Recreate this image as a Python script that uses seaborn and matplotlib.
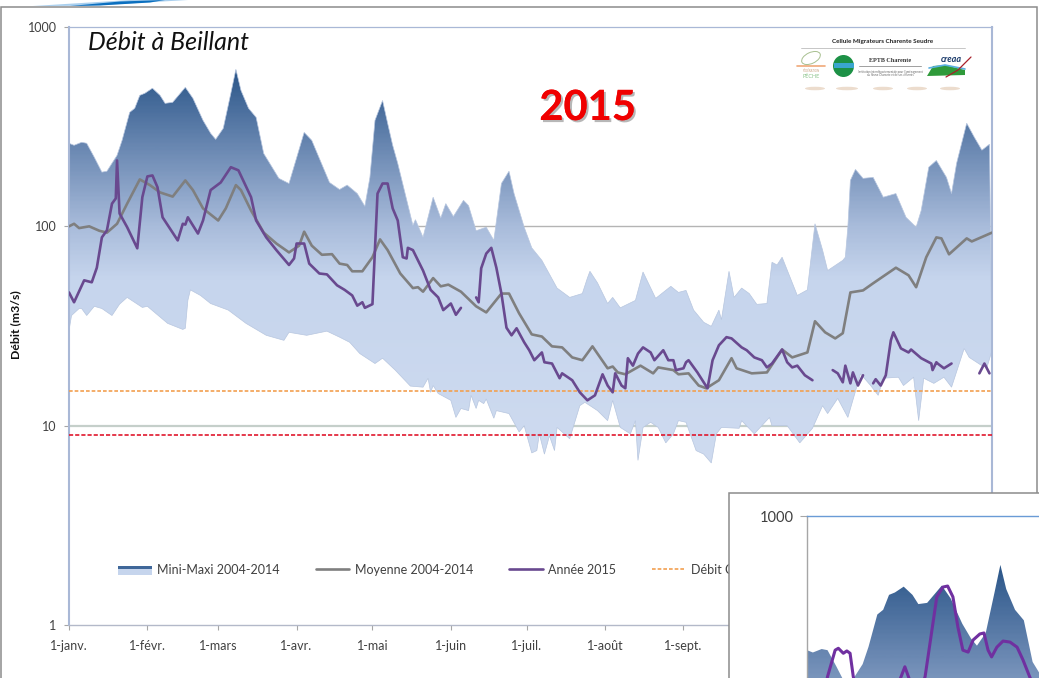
import numpy as np
import pandas as pd
import matplotlib
matplotlib.use("Agg")
import matplotlib.pyplot as plt
import seaborn as sns
from matplotlib.colors import LinearSegmentedColormap
from matplotlib.patches import Rectangle, Ellipse, Polygon
from matplotlib.legend_handler import HandlerBase
from matplotlib.lines import Line2D
from matplotlib.ticker import NullLocator
import matplotlib.patheffects as pe

max_days = [0,2,5,7,10,13,15,19,21,24,26,28,30,33,36,38,41,46,49,53,56,58,61,64,66,68,71,74,77,83,87,93,96,103,107,110,
            114,117,119,121,124,126,128,130,136,137,140,144,147,149,152,156,158,161,165,168,171,174,176,180,183,187,193,198,203,205,206,209,213,215,218,224,227,232,238,
            241,244,247,251,254,257,258,261,263,266,269,272,276,278,280,282,288,292,295,298,300,306,307,308,309,311,314,318,322,327,331,335,337,340,343,347,349,351,355,358,361,364]
max_vals = [261,255,264,261,222,187,189,227,270,373,391,454,465,493,454,414,419,498,439,340,293,273,310,465,613,481,391,352,232,174,164,296,270,166,153,161,
            146,126,176,340,428,329,255,207,101,108,88,140,110,130,112,135,127,95,99,85,164,189,146,99,78,67.5,49,44,46,55,59.5,52,41,44,39,42.5,59,43.5,50,
            46.6,47.7,38,33,31.5,38,34,59.5,44,49,46,40.6,41,66,64,70,45,48,103,76,60,67.5,70,99,170,193,174,176,140,146,111,99,120,198,214,176,146,207,329,280,241,258]

min_days = [0,1,4,5,7,10,13,17,20,23,29,31,39,45,46,47,48,52,56,63,70,78,85,87,94,102,
            107,111,115,121,124,129,135,140,142,143,144,146,151,153,155,158,159,161,162,164,165,168,169,174,178,180,183,185,186,188,190,192,193,198,202,204,209,213,215,218,222,224,225,227,230,233,236,239,
            241,244,248,251,254,256,258,265,266,271,277,278,284,289,294,298,300,304,308,313,317,320,322,328,330,334,336,338,342,346,349,354,356,361,363,365]
min_vals = [30,35.7,38.7,38.7,35.7,39.7,38.7,35.7,40.7,44,39.2,39.7,32.6,30.4,30.8,42.5,48,45,41,38,32.6,28.4,26.8,29.4,28.4,29.8,
            27.8,26.2,23,20.5,21.8,19,15.8,15.6,17.3,14.7,15.9,14.5,13.4,11,12.2,11.9,14.2,12.2,13.4,12.9,13.6,10.9,11.9,11.5,9.3,10,7.3,7.5,9.1,7.2,8.9,7.5,9.8,8.6,12.6,13.1,11.9,10.6,13.4,9.8,9.1,10.6,6.7,9.8,10.4,9.8,8.2,9.1,
            10.6,10.4,7.5,7.2,6.5,9.1,9.8,9.7,10.6,9.1,11,10,10,8.2,9.7,12.6,11.5,13.7,11,18.2,15.9,14.2,17.3,17.5,15.9,17.5,10.6,17.3,16.3,17.5,15.6,24.4,22,20,19.6,23.8]

mean_days = [0,2,4,8,12,15,19,23,28,32,36,41,46,49,53,59,62,66,68,72,77,82,87,91,93,96,100,104,
             107,110,112,116,120,123,126,131,136,138,140,144,147,150,155,161,165,171,174,178,183,187,191,195,199,203,207,213,215,217,220,226,231,233,239,241,245,
             249,252,257,262,264,270,276,282,286,292,295,299,303,306,309,314,318,327,332,335,339,343,345,348,355,357,365]
mean_vals = [100,103,98,100,95,93,103,130,172,161,148,141,170,152,123,107,123,161,152,120,93,82,74,80,94,80,72,72.5,
             65,64,59.5,59.5,70,86,76,58,49,49.5,47,55,50,51,47,39.7,37,46,46,36.6,28.7,28,25,24.7,22,21.3,25,19.4,19.8,18.5,18.1,20,18.3,19.6,19,18.1,18.3,
             15.9,15.4,16.9,21.8,19.4,18.3,18.5,24.1,22,23.3,33.4,29.4,27.4,29.1,46.6,47.7,51.8,62,56.8,49.5,70,88,87,72.4,87,84,93]

y2015_days_a = [0,2,6,9,11,13,15,17,18.5,19,20,23,27,29,31,33,35,37,43,45,46,47,51,53,56,60,64,67,72,74,78,82,87,89,90,93,95,99,102,106,
                109,112,114,116,117,120,122,124,126,128,130,132,133.5,134,136,138,140,143,146,148,151,153,155]
y2015_vals_a = [46.6,41.6,53.6,52.4,62,88,95.5,130,138,214,116,99,77.6,140,178,180,157,111,85,103,102,111,92,107,152,166,198,191,140,107,88,76,64,69,82,82,65,58,57.4,50.6,
                48,45,40,41.6,39,40.7,146,164,164,123,107,70,69,78,76,67.5,60,48,44,38,41,36,39]
y2015_days_b = [161,162,163,165,167,169,171,173,175,177,180,182,184,187,188,191,194,195,199,202,205,208,211,213,215,216,218.5,220,221,223,225,227,230,231.5,235,237,239,240,243,244,245,248.5,252.5,254.5,257,260,262,266,268,271,274,276,278,282,284,286,288,291,294]
y2015_vals_b = [44,41.6,61.6,73,78,62,46,31,28.4,30.8,26.2,23.9,21.3,23.3,20.8,20.5,17.3,18.3,16.9,14.7,13.4,14.2,18.1,15.9,14.7,18.3,15.9,15.4,21.8,20,23,24.7,23.3,21.3,23.9,21.3,21.3,19,19.4,20.8,21.3,18.5,15.4,21.3,25.3,27.8,27.4,24.7,23.9,22,21.3,19.6,20.5,24.1,20.8,19.6,20,17.9,16.9]
y2015_days_c = [302,304,306,307,309,310,312,314]
y2015_vals_c = [19,18.3,16.5,20,16.3,18.5,15.9,17.9]
y2015_days_d = [318,319,321,323,325,326,329,332,333,337,341,341.5,343,343.5,346,349]
y2015_vals_d = [16.3,17.1,15.9,17.9,26.8,29.4,24.4,23.3,24.1,21.8,20.5,19,20.8,20.5,19.4,20.5]
y2015_days_e = [360,362,364]
y2015_vals_e = [18.3,20.5,18.3]

inset_days = [5,7,9.6,10.7,12.4,13.6,14.7,15.8,18,25,30,31.7,33.4,35,37,40.3,44.3,46.4,48,49.8,51.5,53.2,55,56.7,59,60.4,61.8,63,64.8,66.9,69.3,71.7,73.7,76,80]
inset_vals = [150,200,261,266,253,259,253,200,150,120,150,194,221,194,150,200,445,491,496,445,329,261,256,289,307,310,261,244,269,286,283,269,237,200,150]

objectif_lines = [15, 9]
grid_values = [100, 10]
y_ticks = [1, 10, 100, 1000]
y_tick_labels = ["1", "10", "100", "1000"]
x_ticks = [0, 31, 59, 90, 120, 151, 181, 212, 243]
x_tick_labels = ["1-janv.", "1-févr.", "1-mars", "1-avr.", "1-mai", "1-juin", "1-juil.", "1-août", "1-sept."]
legend_labels = ["Mini-Maxi 2004-2014", "Moyenne 2004-2014", "Année 2015", "Débit C"]

sns.set_theme(style="white")
plt.rcParams["font.family"] = ["Lato", "DejaVu Sans"]
plt.rcParams["lines.solid_joinstyle"] = "round"

W, H = 1039, 678
fig = plt.figure(figsize=(W / 100, H / 100), dpi=100, facecolor="white")
def box(l, t, r, b):
    return [l / W, 1 - b / H, (r - l) / W, (b - t) / H]

grad = LinearSegmentedColormap.from_list("g", [
    (0.0, "#d6e0f2"), (0.58, "#c6d5ed"), (0.667, "#a9bcdb"), (0.80, "#6a88b2"), (0.93, "#2b5689"), (1.0, "#234f85")])

def gradient_area(ax):
    ax.set_autoscale_on(False)
    ramp = np.linspace(0, 1, 400)[:, None]
    im = ax.imshow(ramp, origin="lower", extent=[0, 1, 0, 1], transform=ax.transAxes,
                   cmap=grad, aspect="auto", zorder=2, interpolation="bilinear")
    xs = np.r_[max_days, min_days[::-1]]
    ys = np.r_[max_vals, min_vals[::-1]]
    verts = np.c_[xs, ys]
    patch = Polygon(verts, closed=True, transform=ax.transData, facecolor="none", edgecolor="none")
    ax.add_patch(patch)
    im.set_clip_path(patch)
    return verts

# main chart
ax = fig.add_axes(box(69, 27, 992, 625), zorder=1)
ax.set_yscale("log")
ax.set_xlim(0, 365)
ax.set_ylim(1, 1000)
for v, c, w in zip(grid_values, ["#b4b4b4", "#c5cfca"], [1.0, 1.6]):
    ax.axhline(v, color=c, lw=w, zorder=1)
verts = gradient_area(ax)
ax.add_patch(Polygon(verts, closed=True, facecolor="none", edgecolor="#b7c6df", lw=0.5, zorder=2.1))
ax.axhline(objectif_lines[0], color="#f2a050", lw=1.2, ls=(0, (2.2, 1.2)), zorder=3)
ax.axhline(objectif_lines[1], color="#e0182d", lw=1.2, ls=(0, (2.5, 1.2)), zorder=3)

sns.lineplot(x=mean_days, y=mean_vals, color="#7f7f7f", lw=1.9, ax=ax, sort=False, estimator=None, legend=False, zorder=4)
for d, v in [(y2015_days_a, y2015_vals_a), (y2015_days_b, y2015_vals_b), (y2015_days_c, y2015_vals_c),
             (y2015_days_d, y2015_vals_d), (y2015_days_e, y2015_vals_e)]:
    sns.lineplot(x=d, y=v, color="#69498f", lw=1.9, ax=ax, sort=False, estimator=None, legend=False, zorder=5)

ax.set_xlabel(""); ax.set_ylabel("")
ax.set_xticks(x_ticks); ax.set_xticklabels(x_tick_labels)
ax.set_yticks(y_ticks); ax.set_yticklabels(y_tick_labels)
ax.yaxis.set_minor_locator(NullLocator())
ax.xaxis.set_minor_locator(NullLocator())
ax.tick_params(axis="both", which="major", length=3.5, width=0.8, color="#a6a6a6", labelcolor="#404040", labelsize=9, bottom=True, left=True)
ax.tick_params(axis="x", pad=7.5)
ax.tick_params(axis="y", pad=5.5)
for s in ["left", "right"]:
    ax.spines[s].set_color("#a9b8d6"); ax.spines[s].set_linewidth(1.5)
ax.spines["top"].set_color("#a9b8d6"); ax.spines["top"].set_linewidth(0.9)
ax.spines["bottom"].set_color("#b3b9c9"); ax.spines["bottom"].set_linewidth(1.0)

class AreaHandle(HandlerBase):
    def create_artists(self, legend, orig, xd, yd, width, height, fontsize, trans):
        light = Rectangle((-xd, -yd - 1), width, height * 0.62, facecolor="#c6d5ed", edgecolor="none", transform=trans)
        dark = Rectangle((-xd, -yd - 1 + height * 0.62), width, height * 0.38, facecolor="#3f6799", edgecolor="none", transform=trans)
        return [light, dark]

area_key = Rectangle((0, 0), 1, 1)
handles = [area_key,
           Line2D([], [], color="#7f7f7f", lw=1.9),
           Line2D([], [], color="#69498f", lw=1.9),
           Line2D([], [], color="#f2a050", lw=1.2, ls=(0, (2.2, 1.2)))]
leg = ax.legend(handles, legend_labels, handler_map={area_key: AreaHandle()}, ncol=4, frameon=False,
                loc="center left", bbox_to_anchor=((118 - 69) / 923, (625 - 569.5) / 598), borderpad=0, borderaxespad=0,
                fontsize=9, handlelength=2.7, handletextpad=0.45, columnspacing=2.85, labelcolor="#404040")
leg.set_zorder(6)

# decoration layer in picture pixels
deco = fig.add_axes([0, 0, 1, 1], zorder=2)
deco.set_xlim(0, W); deco.set_ylim(H, 0); deco.axis("off"); deco.patch.set_alpha(0)
deco.plot([1, 1, 1037, 1037], [H, 6.5, 6.5, H], color="#8c8c8c", lw=1.1, solid_joinstyle="miter")
deco.add_patch(Polygon([(33, 6), (90, 5.8), (188, 0), (130, 0)], closed=True, facecolor="#a9cfee", edgecolor="none"))
deco.add_patch(Polygon([(70, 6), (100, 5.5), (150, 2.5), (165, 0), (120, 1.5)], closed=True, facecolor="#0b6fbf", edgecolor="none"))
deco.text(88, 42, "Débit à Beillant", fontsize=18, style="italic", color="#111111", va="center", ha="left")
deco.text(587.5, 108, "2015", fontsize=30, fontweight="bold", color="#f00000", va="center", ha="center",
          path_effects=[pe.withSimplePatchShadow(offset=(1.5, -1.5), shadow_rgbFace="#888888", alpha=0.6), pe.Normal()])
deco.text(16, 325, "Débit (m3/s)", fontsize=8.8, fontweight="bold", color="#111111", rotation=90, va="center", ha="center")

# logo block
deco.text(883, 42, "Cellule Migrateurs Charente Seudre", fontsize=4.6, fontweight="bold", color="#222222", ha="center", va="center")
deco.plot([801, 965], [48, 48], color="#bdbdbd", lw=0.6)
deco.plot([797, 825], [65.5, 65.5], color="#f0a878", lw=1.2)
deco.add_patch(Ellipse((811, 58), 20, 11, facecolor="none", edgecolor="#a8c090", lw=0.7, angle=-25))
deco.text(811, 76, "PÊCHE", fontsize=4, color="#8cc48c", ha="center", va="center")
deco.text(811, 71, "FÉDÉRATION", fontsize=2, color="#c9a080", ha="center", va="center")
deco.add_patch(Ellipse((843.5, 66), 21, 22, facecolor="#1d9146", edgecolor="none"))
deco.add_patch(Rectangle((833.5, 63), 20, 5, facecolor="#3aa6cf", edgecolor="none"))
deco.text(890, 60, "EPTB Charente", fontsize=4.4, family="Liberation Serif", fontweight="bold", color="#333333", ha="center", va="center")
deco.plot([859, 921], [66, 66], color="#a0a0a0", lw=0.7)
deco.text(890, 72, "Institution interdépartementale pour l'aménagement", fontsize=2, color="#666666", ha="center", va="center")
deco.text(890, 75, "du fleuve Charente et de ses affluents", fontsize=2, color="#666666", ha="center", va="center")
deco.text(951, 59, "creaa", fontsize=6.5, style="italic", fontweight="bold", color="#1a3a6a", ha="center", va="center")
deco.add_patch(Polygon([(927, 76), (933, 66), (945, 65), (965, 70), (965, 75)], closed=True, facecolor="#2f9a3a", edgecolor="none"))
deco.plot([929, 945, 965], [68, 65, 69], color="#5ab0e0", lw=1.2)
deco.plot([946, 958, 971], [77, 70, 57], color="#a8202a", lw=0.9)
for cx, w_ in [(815, 20), (847, 22), (883, 20), (917, 20), (950, 20)]:
    deco.add_patch(Ellipse((cx, 88.5), w_, 3.5, facecolor="#ecdccd", edgecolor="none"))

# inset chart covering the lower right corner
fig.add_artist(Rectangle((729 / W, 1 - 1000 / H), 600 / W, (1000 - 493) / H, transform=fig.transFigure,
                         facecolor="white", edgecolor="#8c8c8c", lw=1.1, zorder=5))
inset = fig.add_axes(box(807, 516, 807 + 2.93 * 365, 516 + 230 * 3), zorder=6)
inset.set_yscale("log")
inset.set_xlim(0, 365)
inset.set_ylim(1, 1000)
gradient_area(inset)
sns.lineplot(x=inset_days, y=inset_vals, color="#7030a0", lw=2.2, ax=inset, sort=False, estimator=None, legend=False, zorder=5)
inset.set_xlabel(""); inset.set_ylabel("")
inset.set_xticks([])
inset.set_yticks([1000]); inset.set_yticklabels(["1000"])
inset.yaxis.set_minor_locator(NullLocator())
inset.tick_params(axis="y", which="major", length=5, width=0.8, color="#a6a6a6", labelcolor="#404040", labelsize=10.5, pad=4.5, left=True)
inset.spines["left"].set_color("#a6a6a6"); inset.spines["left"].set_linewidth(1.0)
inset.spines["top"].set_color("#6a9bd6"); inset.spines["top"].set_linewidth(1.0)
inset.spines["right"].set_visible(False); inset.spines["bottom"].set_visible(False)

fig.savefig("out.png", dpi=100)
